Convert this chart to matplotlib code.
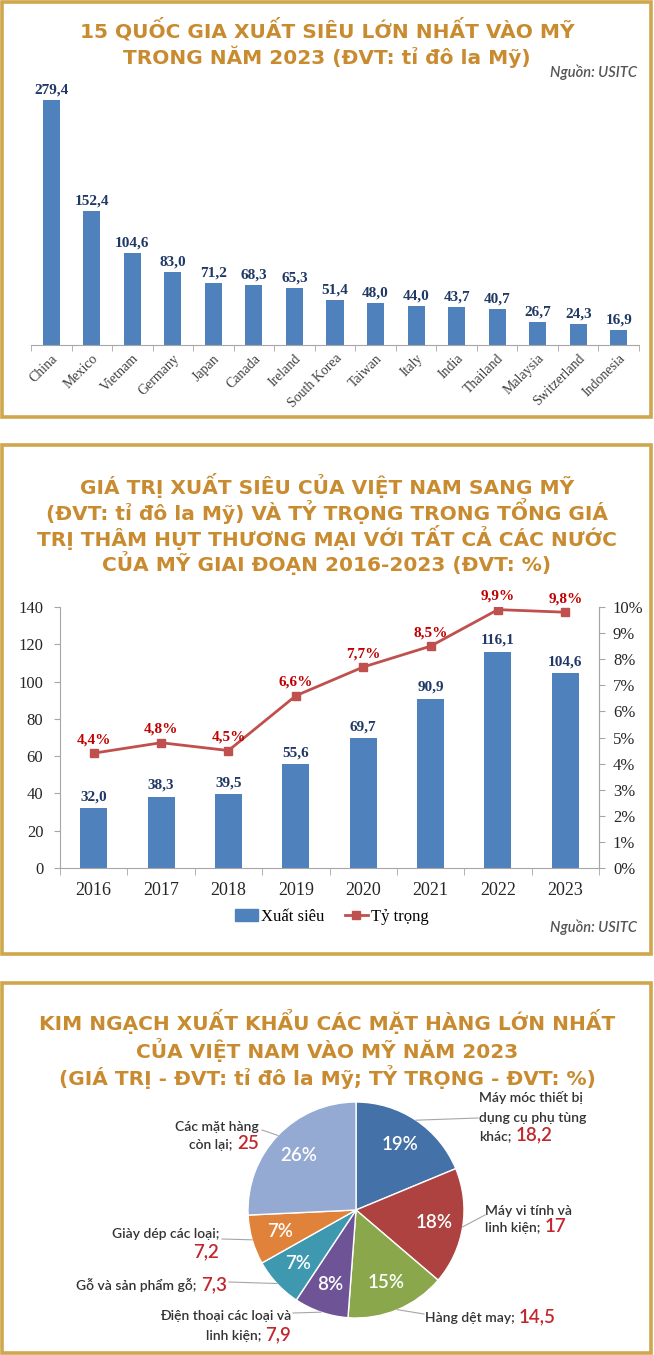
import numpy as np
import matplotlib.pyplot as plt
from matplotlib.patches import Rectangle
from matplotlib.lines import Line2D

# ---- data ----
countries = ["China", "Mexico", "Vietnam", "Germany", "Japan", "Canada", "Ireland",
             "South Korea", "Taiwan", "Italy", "India", "Thailand", "Malaysia",
             "Switzerland", "Indonesia"]
surplus_2023 = [279.4, 152.4, 104.6, 83.0, 71.2, 68.3, 65.3, 51.4, 48.0, 44.0,
                43.7, 40.7, 26.7, 24.3, 16.9]

years = ["2016", "2017", "2018", "2019", "2020", "2021", "2022", "2023"]
vn_surplus = [32.0, 38.3, 39.5, 55.6, 69.7, 90.9, 116.1, 104.6]
vn_share = [4.4, 4.8, 4.5, 6.6, 7.7, 8.5, 9.9, 9.8]

goods_value = [18.2, 17, 14.5, 7.9, 7.3, 7.2, 25]
goods_pct = ["19%", "18%", "15%", "8%", "7%", "7%", "26%"]
goods_colors = ["#4471A8", "#AE4240", "#8AA74B", "#6E5497", "#3D98B0", "#E0823A", "#94AAD3"]

title1 = ["15 QUỐC GIA XUẤT SIÊU LỚN NHẤT VÀO MỸ",
          "TRONG NĂM 2023 (ĐVT: tỉ đô la Mỹ)"]
title2 = ["GIÁ TRỊ XUẤT SIÊU CỦA VIỆT NAM SANG MỸ",
          "(ĐVT: tỉ đô la Mỹ) VÀ TỶ TRỌNG TRONG TỔNG GIÁ",
          "TRỊ THÂM HỤT THƯƠNG MẠI VỚI TẤT CẢ CÁC NƯỚC",
          "CỦA MỸ GIAI ĐOẠN 2016-2023 (ĐVT: %)"]
title3 = ["KIM NGẠCH XUẤT KHẨU CÁC MẶT HÀNG LỚN NHẤT",
          "CỦA VIỆT NAM VÀO MỸ NĂM 2023",
          "(GIÁ TRỊ - ĐVT: tỉ đô la Mỹ; TỶ TRỌNG - ĐVT: %)"]

GOLD = "#CFA84E"
TITLE_C = "#C98B2F"
BLUE = "#4F81BD"
NAVY = "#1F3864"
SERIF = ["Liberation Serif", "DejaVu Serif"]
SANS = ["Lato", "Noto Sans", "DejaVu Sans"]
TFONT = ["DejaVu Sans"]

W, H = 654, 1355


def box(x0, y0, x1, y1):
    return [x0 / W, 1 - y1 / H, (x1 - x0) / W, (y1 - y0) / H]


def vn(v, fmt="%.1f"):
    return (fmt % v).replace(".", ",")


fig = plt.figure(figsize=(W / 100, H / 100), dpi=100, facecolor="white")

# background layer: borders, titles (pixel coords, y down)
bg = fig.add_axes([0, 0, 1, 1])
bg.set_xlim(0, W)
bg.set_ylim(H, 0)
bg.axis("off")
for y0, y1 in [(1.5, 416.5), (445, 953.5), (982.5, 1352.5)]:
    bg.add_patch(Rectangle((2, y0), 649, y1 - y0, fill=False, edgecolor=GOLD, lw=2.6))

for lines, ys in [(title1, [30, 57]), (title2, [485, 511, 537, 563]),
                  (title3, [1022, 1050, 1077])]:
    for t, y in zip(lines, ys):
        bg.text(327, y, t, ha="center", va="center", fontsize=14.5, fontweight="bold",
                color=TITLE_C, family=TFONT)

for y in [72, 927]:
    bg.text(637, y, "Nguồn: USITC", ha="right", va="center", fontsize=10.5,
            style="italic", fontweight="semibold", color="#555555", family=SANS)

# ---- chart 1 ----
ax1 = fig.add_axes(box(31, 95, 639, 345))
ax1.patch.set_alpha(0)
x = np.arange(len(countries))
bars = ax1.bar(x, surplus_2023, width=0.42, color=BLUE)
ax1.bar_label(bars, labels=[vn(v) for v in surplus_2023], padding=2.5, fontsize=11,
              fontweight="bold", color=NAVY, family=SERIF)
ax1.set_xlim(-0.5, len(countries) - 0.5)
ax1.set_ylim(0, 285)
for s in ["left", "top", "right"]:
    ax1.spines[s].set_visible(False)
ax1.spines["bottom"].set_color("#A6A6A6")
ax1.set_yticks([])
ax1.set_xticks(x)
ax1.set_xticklabels(countries, rotation=45, ha="right", rotation_mode="anchor",
                    fontsize=10, color="#404040", family=SERIF)
ax1.set_xticks(np.arange(-0.5, len(countries), 1), minor=True)
ax1.tick_params(axis="x", which="major", length=0, pad=5)
ax1.tick_params(axis="x", which="minor", length=4, color="#A6A6A6")

# ---- chart 2 ----
ax2 = fig.add_axes(box(60, 607, 599, 868))
ax2.patch.set_alpha(0)
x2 = np.arange(len(years))
bars2 = ax2.bar(x2, vn_surplus, width=0.4, color=BLUE)
ax2.bar_label(bars2, labels=[vn(v) for v in vn_surplus], padding=3.5, fontsize=11,
              fontweight="bold", color=NAVY, family=SERIF)
ax2.set_xlim(-0.5, len(years) - 0.5)
ax2.set_ylim(0, 140)
ax2.set_yticks(range(0, 141, 20))
ax2.set_yticklabels([str(v) for v in range(0, 141, 20)], fontsize=12, family=SERIF,
                    color="#262626")
ax2.set_xticks(x2)
ax2.set_xticklabels(years, fontsize=13, family=SERIF, color="#262626")
ax2.set_xticks(np.arange(-0.5, len(years), 1), minor=True)
ax2.tick_params(axis="x", which="major", length=0, pad=10)
ax2.tick_params(axis="x", which="minor", length=5, color="#A6A6A6")
ax2.tick_params(axis="y", length=4, color="#A6A6A6", pad=8)
ax2.spines["top"].set_visible(False)
for s in ["left", "bottom", "right"]:
    ax2.spines[s].set_color("#A6A6A6")

ax2r = ax2.twinx()
ax2r.set_ylim(0, 10)
ax2r.set_yticks(range(0, 11))
ax2r.set_yticklabels([f"{v}%" for v in range(0, 11)], fontsize=12, family=SERIF,
                     color="#262626")
ax2r.tick_params(axis="y", length=4, color="#A6A6A6", pad=6)
ax2r.spines["top"].set_visible(False)
ax2r.spines["right"].set_color("#A6A6A6")
ax2r.spines["left"].set_visible(False)
ax2r.spines["bottom"].set_visible(False)
ax2r.plot(x2, vn_share, color="#C0504D", lw=2, marker="s", ms=6)
for xi, v in zip(x2, vn_share):
    ax2r.annotate(vn(v) + "%", (xi, v), xytext=(0, 5), textcoords="offset points",
                  ha="center", va="bottom", fontsize=11, fontweight="bold",
                  color="#C00000", family=SERIF)

handles = [Rectangle((0, 0), 1, 1, color=BLUE),
           Line2D([], [], color="#C0504D", lw=2, marker="s", ms=6)]
ax2.legend(handles, ["Xuất siêu", "Tỷ trọng"], loc="center",
           bbox_to_anchor=(332 / W, 1 - 917 / H), bbox_transform=fig.transFigure,
           ncol=2, frameon=False, prop={"family": SERIF, "size": 12},
           handlelength=1.4, handletextpad=0.2, columnspacing=1.2)

# ---- chart 3: pie (pixel coords, y up) ----
pax = fig.add_axes([0, 0, 1, 1])
pax.patch.set_alpha(0)
cx, cy, R = 356, H - 1210, 108
wedges, _ = pax.pie(goods_value, colors=goods_colors, startangle=90, counterclock=False,
                    center=(cx, cy), radius=R,
                    wedgeprops=dict(edgecolor="white", linewidth=1))
pax.set_xlim(0, W)
pax.set_ylim(0, H)
pax.axis("off")

mids = [np.deg2rad((w.theta1 + w.theta2) / 2) for w in wedges]
for a, p in zip(mids, goods_pct):
    pax.text(cx + 0.73 * R * np.cos(a), cy + 0.73 * R * np.sin(a), p, ha="center",
             va="center", fontsize=13.5, fontweight="semibold", color="white", family=SANS)

# label layout: lines above, last grey part, x anchor, line centers (px, y down), align, leader end
label_layout = [
    (["Máy móc thiết bị", "dụng cụ phụ tùng"], "khác;", 479, [1097, 1117, 1135], "left", (478, 1118)),
    (["Máy vi tính và"], "linh kiện;", 485, [1210, 1227], "left", (485, 1215)),
    ([], "Hàng dệt may;", 425, [1317], "left", (424, 1314)),
    (["Điện thoại các loại và"], "linh kiện;", 291, [1315, 1335], "right", (293, 1313)),
    ([], "Gỗ và sản phẩm gỗ;", 227, [1285], "right", (229, 1282)),
    (["Giày dép các loại;"], "", 219, [1233, 1252], "right", (222, 1239)),
    (["Các mặt hàng"], "còn lại;", 259, [1126, 1144], "right", (262, 1130)),
]
GREY_T = "#333333"
RED_T = "#C1272D"
for (above, last, lx, ys, align, lend), a, v in zip(label_layout, mids, goods_value):
    for t, y in zip(above, ys):
        pax.text(lx, H - y - 5, t, ha=align, va="baseline", fontsize=10, color=GREY_T,
                 fontweight="semibold", family=SANS)
    yb = H - ys[-1] - 5
    val = vn(v, "%g")
    if align == "left":
        tg = pax.text(lx, yb, last, ha="left", va="baseline", fontsize=10, color=GREY_T,
                      fontweight="semibold", family=SANS)
        pax.annotate(val, xy=(1, yb), xycoords=(tg, "data"), xytext=(3, 0),
                     textcoords="offset points", ha="left", va="baseline", fontsize=13.5,
                     fontweight="semibold", color=RED_T, family=SANS)
    else:
        tr = pax.text(lx, yb, val, ha="right", va="baseline", fontsize=13.5, color=RED_T,
                      fontweight="semibold", family=SANS)
        if last:
            pax.annotate(last, xy=(0, yb), xycoords=(tr, "data"), xytext=(-3, 0),
                         textcoords="offset points", ha="right", va="baseline",
                         fontsize=10, fontweight="semibold", color=GREY_T, family=SANS)
    pax.plot([cx + R * np.cos(a), lend[0]], [cy + R * np.sin(a), H - lend[1]],
             color="#A6A6A6", lw=0.8)

fig.savefig("out.png", dpi=100, facecolor="white")
